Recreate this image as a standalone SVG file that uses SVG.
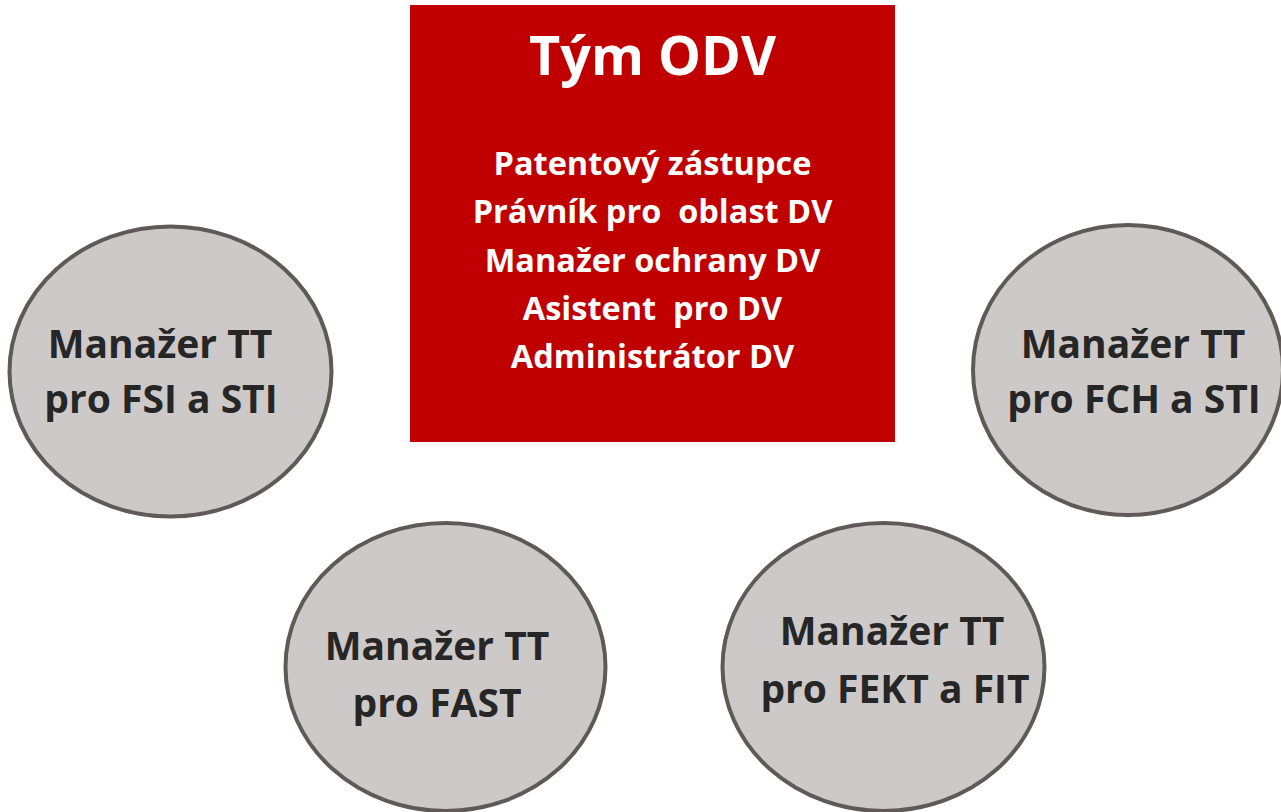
<svg xmlns="http://www.w3.org/2000/svg" width="1281" height="812" viewBox="0 0 1281 812">
<style>
.node ellipse{fill:#cdc9c8;stroke:#5f5a58;stroke-width:4}
.lbl{font-family:"Open Sans","Liberation Sans",sans-serif;font-weight:bold;font-size:39px;fill:#262626;text-anchor:middle}
.w{font-family:"Open Sans","Liberation Sans",sans-serif;font-weight:bold;fill:#ffffff;text-anchor:middle;font-size:32.5px}
</style>
<rect width="1281" height="812" fill="#ffffff"/>
<g id="connectors"></g>
<g id="team">
<rect x="410" y="5" width="485" height="437" fill="#c00000"/>
<text class="w" x="652.5" y="75" style="font-size:54px">Tým ODV</text>
<text class="w" x="652.5" y="175">Patentový zástupce</text>
<text class="w" x="652.5" y="223" xml:space="preserve">Právník pro  oblast DV</text>
<text class="w" x="652.5" y="272">Manažer ochrany DV</text>
<text class="w" x="652.5" y="320" xml:space="preserve">Asistent  pro DV</text>
<text class="w" x="652.5" y="368">Administrátor DV</text>
</g>
<g id="fsi" class="node">
<ellipse cx="170.5" cy="371.5" rx="161" ry="145"/>
<text class="lbl" x="160" y="358">Manažer TT</text>
<text class="lbl" x="161" y="413">pro FSI a STI</text>
</g>
<g id="fch" class="node">
<ellipse cx="1128" cy="370" rx="155" ry="145"/>
<text class="lbl" x="1133" y="358">Manažer TT</text>
<text class="lbl" x="1134" y="413">pro FCH a STI</text>
</g>
<g id="fast" class="node">
<ellipse cx="445.5" cy="667" rx="160" ry="144"/>
<text class="lbl" x="437" y="660">Manažer TT</text>
<text class="lbl" x="437" y="717">pro FAST</text>
</g>
<g id="fekt" class="node">
<ellipse cx="883.5" cy="667" rx="161" ry="144"/>
<text class="lbl" x="892" y="645">Manažer TT</text>
<text class="lbl" x="895" y="703">pro FEKT a FIT</text>
</g>
</svg>
